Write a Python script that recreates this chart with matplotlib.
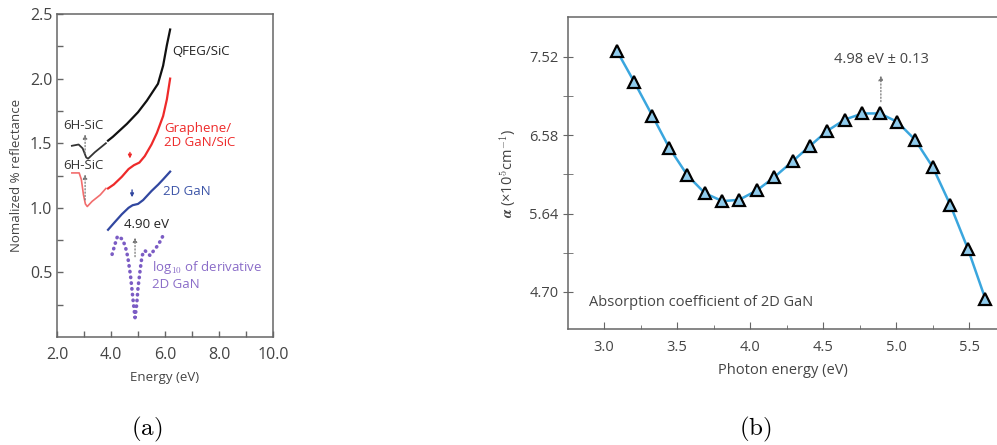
import numpy as np
import matplotlib
matplotlib.use("Agg")
import matplotlib.pyplot as plt

plt.rcParams['font.family'] = ['Open Sans', 'DejaVu Sans']
plt.rcParams['mathtext.fontset'] = 'cm'

txt = '#444444'
spine_c = '#666666'

# (a) normalized reflectance spectra
qfeg_dip_x = [2.55, 2.8, 2.95, 3.08, 3.15, 3.4, 3.81]
qfeg_dip_y = [1.48, 1.49, 1.46, 1.39, 1.38, 1.43, 1.50]
qfeg_x = [3.89, 4.07, 4.59, 5.0, 5.33, 5.74, 5.93, 6.07, 6.19]
qfeg_y = [1.52, 1.55, 1.65, 1.74, 1.83, 1.96, 2.10, 2.26, 2.38]

gr_dip_x = [2.55, 2.82, 2.9, 2.98, 3.05, 3.12, 3.3, 3.6, 3.81]
gr_dip_y = [1.27, 1.27, 1.22, 1.10, 1.03, 1.01, 1.05, 1.10, 1.15]
gr_x = [3.89, 4.1, 4.4, 4.65, 4.85, 5.05, 5.25, 5.5, 5.7, 5.93, 6.07, 6.19]
gr_y = [1.15, 1.18, 1.24, 1.30, 1.33, 1.35, 1.40, 1.49, 1.58, 1.71, 1.84, 2.00]

gan_x = [3.89, 4.1, 4.4, 4.65, 4.8, 5.0, 5.19, 5.5, 5.75, 5.93, 6.19]
gan_y = [0.83, 0.88, 0.95, 1.00, 1.02, 1.03, 1.06, 1.13, 1.18, 1.22, 1.28]

der_x = [4.04, 4.15, 4.24, 4.4, 4.52, 4.62, 4.72, 4.82, 4.89, 4.95, 5.0,
         5.08, 5.15, 5.25, 5.35, 5.45, 5.55, 5.7, 5.85, 5.96]
der_y = [0.64, 0.72, 0.78, 0.76, 0.71, 0.62, 0.48, 0.28, 0.15, 0.25, 0.38,
         0.52, 0.63, 0.67, 0.65, 0.63, 0.66, 0.70, 0.75, 0.80]

# (b) absorption coefficient of 2D GaN
photon_e = [3.087, 3.208, 3.331, 3.447, 3.571, 3.690, 3.810, 3.925, 4.046,
            4.166, 4.290, 4.409, 4.527, 4.649, 4.769, 4.888, 5.007, 5.128,
            5.251, 5.370, 5.491, 5.610]
alpha = [7.596, 7.215, 6.813, 6.427, 6.098, 5.885, 5.789, 5.805, 5.918,
         6.078, 6.267, 6.451, 6.632, 6.769, 6.842, 6.842, 6.741, 6.528,
         6.195, 5.745, 5.215, 4.616]
alpha_ticks = [4.70, 5.64, 6.58, 7.52]

fig = plt.figure(figsize=(9.97, 4.45), dpi=100)

ax1 = fig.add_axes([0.0572, 0.2427, 0.2166, 0.7258])
ax1.plot(qfeg_dip_x, qfeg_dip_y, color='#333333', lw=1.3)
ax1.plot(qfeg_x, qfeg_y, color='#111111', lw=1.6)
ax1.plot(gr_dip_x, gr_dip_y, color='#f26d6d', lw=1.2)
ax1.plot(gr_x, gr_y, color='#ee2a2a', lw=1.6)
ax1.plot(gan_x, gan_y, color='#3147a0', lw=1.6)
ax1.plot(der_x, der_y, color='#7b5cc4', lw=2.6, linestyle=(0, (0.1, 1.5)),
         dash_capstyle='round')

dot_arrow = dict(arrowstyle='-|>', color='#777777', lw=0.9, linestyle=':',
                 mutation_scale=6)
ax1.annotate('', xy=(3.04, 1.59), xytext=(3.04, 1.40), arrowprops=dot_arrow)
ax1.annotate('', xy=(3.04, 1.28), xytext=(3.04, 1.04), arrowprops=dot_arrow)
ax1.annotate('', xy=(4.89, 0.79), xytext=(4.89, 0.60), arrowprops=dot_arrow)
ax1.annotate('', xy=(4.70, 1.36), xytext=(4.70, 1.45),
             arrowprops=dict(arrowstyle='-|>', color='#ee2a2a', lw=1.0, mutation_scale=5))
ax1.annotate('', xy=(4.78, 1.06), xytext=(4.78, 1.16),
             arrowprops=dict(arrowstyle='-|>', color='#3147a0', lw=1.0, mutation_scale=5))

ax1.text(6.26, 2.21, 'QFEG/SiC', color='#222222', fontsize=9.5, va='center')
ax1.text(5.96, 1.56, 'Graphene/\n2D GaN/SiC', color='#ee2a2a', fontsize=9.5,
         va='center', linespacing=1.15)
ax1.text(5.93, 1.13, '2D GaN', color='#3d55a8', fontsize=9.5, va='center')
ax1.text(5.5, 0.48, 'log$_{10}$ of derivative\n2D GaN', color='#8a6cc8',
         fontsize=9.5, va='center', linespacing=1.15)
ax1.text(4.48, 0.87, '4.90 eV', color='#222222', fontsize=9.5, va='center')
ax1.text(2.22, 1.64, '6H-SiC', color='#333333', fontsize=9.5, va='center')
ax1.text(2.22, 1.33, '6H-SiC', color='#333333', fontsize=9.5, va='center')

ax1.set_xlim(2, 10)
ax1.set_ylim(0, 2.5)
ax1.set_xticks([2, 4, 6, 8, 10])
ax1.set_xticklabels(['2.0', '4.0', '6.0', '8.0', '10.0'])
ax1.set_xticks([3, 5, 7, 9], minor=True)
ax1.set_yticks([0.5, 1.0, 1.5, 2.0, 2.5])
ax1.set_yticklabels(['0.5', '1.0', '1.5', '2.0', '2.5'])
ax1.set_yticks([0.25, 0.75, 1.25, 1.75, 2.25], minor=True)
ax1.tick_params(which='both', direction='in', color=spine_c, labelcolor=txt,
                labelsize=11.5, width=1, length=4)
ax1.tick_params(axis='x', pad=7)
ax1.set_xlabel('Energy (eV)', color=txt, fontsize=9.5, labelpad=6)
ax1.set_ylabel('Nomalized % reflectance', color=txt, fontsize=9.5, labelpad=5)
for s in ax1.spines.values():
    s.set_color(spine_c)
    s.set_linewidth(1.1)

ax2 = fig.add_axes([0.5697, 0.2607, 0.4303, 0.7011])
ax2.plot(photon_e, alpha, color='#3aa6de', lw=1.8, zorder=2)
ax2.plot(photon_e, alpha, linestyle='none', marker='^', markersize=9,
         markerfacecolor='#8fcbec', markeredgecolor='black',
         markeredgewidth=1.6, zorder=3)
ax2.annotate('', xy=(4.895, 7.33), xytext=(4.895, 6.95),
             arrowprops=dict(arrowstyle='-|>', color='#777777', lw=0.9,
                             linestyle=':', mutation_scale=7))
ax2.text(4.897, 7.49, '4.98 eV ± 0.13', color=txt, fontsize=10.5,
         ha='center', va='center')
ax2.text(2.897, 4.57, 'Absorption coefficient of 2D GaN', color=txt,
         fontsize=10.5, va='center')

ax2.set_xlim(2.753, 5.69)
ax2.set_ylim(4.254, 8.0)
ax2.set_xticks([3.0, 3.5, 4.0, 4.5, 5.0, 5.5])
ax2.set_xticklabels(['3.0', '3.5', '4.0', '4.5', '5.0', '5.5'])
ax2.set_xticks([3.25, 3.75, 4.25, 4.75, 5.25], minor=True)
ax2.set_yticks(alpha_ticks)
ax2.set_yticklabels(['%.2f' % v for v in alpha_ticks])
ax2.set_yticks([5.17, 6.11, 7.05], minor=True)
ax2.tick_params(axis='x', which='both', direction='in', color=spine_c,
                labelcolor=txt, labelsize=10.5)
ax2.tick_params(axis='x', which='major', length=5, pad=8)
ax2.tick_params(axis='x', which='minor', length=3)
ax2.tick_params(axis='y', which='both', direction='inout', color=spine_c,
                labelcolor=txt, labelsize=10.5, length=7)
ax2.set_xlabel('Photon energy (eV)', color=txt, fontsize=10.5, labelpad=6)
ax2.set_ylabel(r'$\boldsymbol{\alpha}$ (×10$^5$cm$^{-1}$)', color=txt,
               fontsize=10.5, labelpad=8)
ax2.spines['right'].set_visible(False)
for s in ax2.spines.values():
    s.set_color(spine_c)
    s.set_linewidth(1.1)

fig.text(0.147, 0.035, r'$\mathrm{(a)}$', fontsize=18, ha='center', va='center')
fig.text(0.758, 0.035, r'$\mathrm{(b)}$', fontsize=18, ha='center', va='center')

fig.savefig('out.png', dpi=100)
